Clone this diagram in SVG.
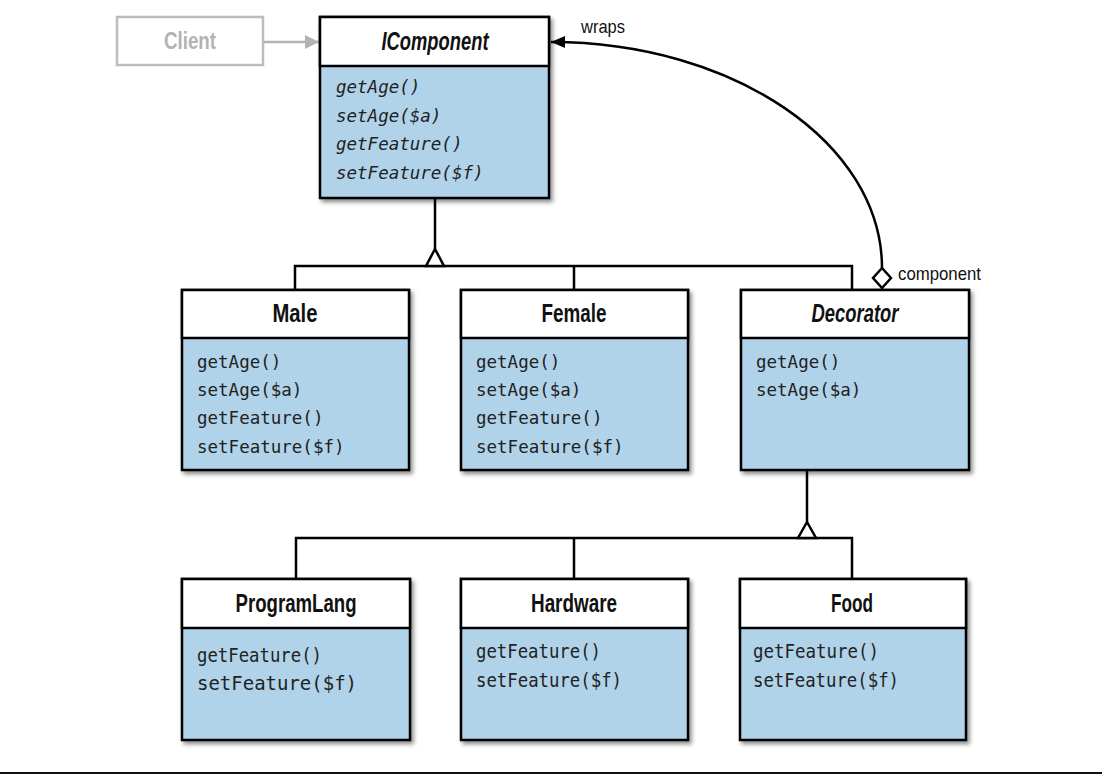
<svg xmlns="http://www.w3.org/2000/svg" width="1102" height="777" viewBox="0 0 1102 777">
  <defs>
    <filter id="shadow" x="-10%" y="-10%" width="130%" height="130%">
      <feDropShadow dx="2.5" dy="3" stdDeviation="2" flood-color="#000" flood-opacity="0.45"/>
    </filter>
    <marker id="arrowBlack" viewBox="0 0 14 12" refX="14" refY="6" markerWidth="14" markerHeight="12" markerUnits="userSpaceOnUse" orient="auto">
      <path d="M0,0 L14,6 L0,12 z" fill="#000"/>
    </marker>
    <marker id="arrowGray" viewBox="0 0 14 14" refX="14" refY="7" markerWidth="14" markerHeight="14" markerUnits="userSpaceOnUse" orient="auto">
      <path d="M0,0 L14,7 L0,14 z" fill="#b3b3b3"/>
    </marker>
  </defs>
  <style>
    .hdr { fill: #ffffff; stroke: #000; stroke-width: 2.5; }
    .body { fill: #b0d3ea; stroke: #000; stroke-width: 2.5; }
    .frame { filter: url(#shadow); }
    .title { font-family: "Liberation Sans", Arial, sans-serif; font-weight: bold; font-size: 25px; fill: #111; text-anchor: middle; }
    .ital { font-style: italic; }
    .m { font-family: "DejaVu Sans Mono", "Liberation Mono", monospace; font-size: 17.5px; fill: #222; }
    .m3 { font-family: "DejaVu Sans Mono", "Liberation Mono", monospace; font-size: 19.5px; fill: #222; }
    .lbl { font-family: "Liberation Sans", Arial, sans-serif; font-size: 19px; fill: #111; }
    .line { fill: none; stroke: #000; stroke-width: 2.5; }
  </style>

  <rect width="1102" height="777" fill="#ffffff"/>

  <!-- connectors -->
  <g id="connectors">
    <!-- client uses IComponent -->
    <line x1="263" y1="42" x2="319" y2="42" stroke="#b3b3b3" stroke-width="2.5" marker-end="url(#arrowGray)"/>
    <!-- IComponent generalization -->
    <line class="line" x1="435" y1="198" x2="435" y2="249"/>
    <path class="line" d="M295,290 V266 H852 V290 M574,266 V290"/>
    <path d="M435,249 L426,266 L444,266 z" fill="#fff" stroke="#000" stroke-width="2.5" stroke-linejoin="miter"/>
    <!-- Decorator generalization -->
    <line class="line" x1="807" y1="470" x2="807" y2="522"/>
    <path class="line" d="M296,579 V538 H852 V579 M574,538 V579"/>
    <path d="M807,522 L798,538 L816,538 z" fill="#fff" stroke="#000" stroke-width="2.5"/>
    <!-- aggregation: Decorator wraps IComponent -->
    <path class="line" d="M882,268 C882,143 733,42 551,42" marker-end="url(#arrowBlack)"/>
    <path d="M882,268 L891,278 L882,288 L873,278 z" fill="#fff" stroke="#000" stroke-width="2.5"/>
    <text class="lbl" x="581" y="33" textLength="44" lengthAdjust="spacingAndGlyphs">wraps</text>
    <text class="lbl" x="898" y="280" textLength="83" lengthAdjust="spacingAndGlyphs">component</text>
  </g>

  <!-- Client -->
  <g id="client">
    <rect x="117" y="17" width="146" height="48" fill="#fff" stroke="#bdbdbd" stroke-width="2.5"/>
    <text class="title" x="190" y="49" style="fill:#b3b3b3;font-size:24px" textLength="52" lengthAdjust="spacingAndGlyphs">Client</text>
  </g>

  <!-- IComponent -->
  <g id="icomponent">
    <g class="frame">
      <rect class="body" x="320" y="17" width="229" height="181"/>
    </g>
    <rect class="hdr" x="320" y="17" width="229" height="49"/>
    <text class="title ital" x="435" y="50" textLength="107" lengthAdjust="spacingAndGlyphs">IComponent</text>
    <text class="m ital" x="336" y="93">getAge()</text>
    <text class="m ital" x="336" y="122">setAge($a)</text>
    <text class="m ital" x="336" y="150">getFeature()</text>
    <text class="m ital" x="336" y="179">setFeature($f)</text>
  </g>

  <!-- Male -->
  <g id="male">
    <g class="frame"><rect class="body" x="182" y="290" width="227" height="180"/></g>
    <rect class="hdr" x="182" y="290" width="227" height="48"/>
    <text class="title" x="295" y="322" textLength="45" lengthAdjust="spacingAndGlyphs">Male</text>
    <text class="m" x="197" y="368">getAge()</text>
    <text class="m" x="197" y="396">setAge($a)</text>
    <text class="m" x="197" y="424">getFeature()</text>
    <text class="m" x="197" y="453">setFeature($f)</text>
  </g>

  <!-- Female -->
  <g id="female">
    <g class="frame"><rect class="body" x="461" y="290" width="227" height="180"/></g>
    <rect class="hdr" x="461" y="290" width="227" height="48"/>
    <text class="title" x="574" y="322" textLength="65" lengthAdjust="spacingAndGlyphs">Female</text>
    <text class="m" x="476" y="368">getAge()</text>
    <text class="m" x="476" y="396">setAge($a)</text>
    <text class="m" x="476" y="424">getFeature()</text>
    <text class="m" x="476" y="453">setFeature($f)</text>
  </g>

  <!-- Decorator -->
  <g id="decorator">
    <g class="frame"><rect class="body" x="741" y="290" width="228" height="180"/></g>
    <rect class="hdr" x="741" y="290" width="228" height="48"/>
    <text class="title ital" x="855" y="322" textLength="87" lengthAdjust="spacingAndGlyphs">Decorator</text>
    <text class="m" x="756" y="368">getAge()</text>
    <text class="m" x="756" y="396">setAge($a)</text>
  </g>

  <!-- ProgramLang -->
  <g id="programlang">
    <g class="frame"><rect class="body" x="182" y="579" width="228" height="161"/></g>
    <rect class="hdr" x="182" y="579" width="228" height="49"/>
    <text class="title" x="296" y="612" textLength="121" lengthAdjust="spacingAndGlyphs">ProgramLang</text>
    <text class="m3" x="197" y="662" textLength="125" lengthAdjust="spacingAndGlyphs">getFeature()</text>
    <text class="m3" x="197" y="690" textLength="160" lengthAdjust="spacingAndGlyphs">setFeature($f)</text>
  </g>

  <!-- Hardware -->
  <g id="hardware">
    <g class="frame"><rect class="body" x="461" y="579" width="227" height="161"/></g>
    <rect class="hdr" x="461" y="579" width="227" height="49"/>
    <text class="title" x="574" y="612" textLength="86" lengthAdjust="spacingAndGlyphs">Hardware</text>
    <text class="m3" x="476" y="658" textLength="125" lengthAdjust="spacingAndGlyphs">getFeature()</text>
    <text class="m3" x="476" y="687" textLength="146" lengthAdjust="spacingAndGlyphs">setFeature($f)</text>
  </g>

  <!-- Food -->
  <g id="food">
    <g class="frame"><rect class="body" x="740" y="579" width="226" height="161"/></g>
    <rect class="hdr" x="740" y="579" width="226" height="49"/>
    <text class="title" x="852" y="612" textLength="42" lengthAdjust="spacingAndGlyphs">Food</text>
    <text class="m3" x="753" y="658" textLength="126" lengthAdjust="spacingAndGlyphs">getFeature()</text>
    <text class="m3" x="753" y="687" textLength="146" lengthAdjust="spacingAndGlyphs">setFeature($f)</text>
  </g>

  <!-- page rule -->
  <line x1="0" y1="773" x2="1102" y2="773" stroke="#111" stroke-width="2"/>
</svg>
